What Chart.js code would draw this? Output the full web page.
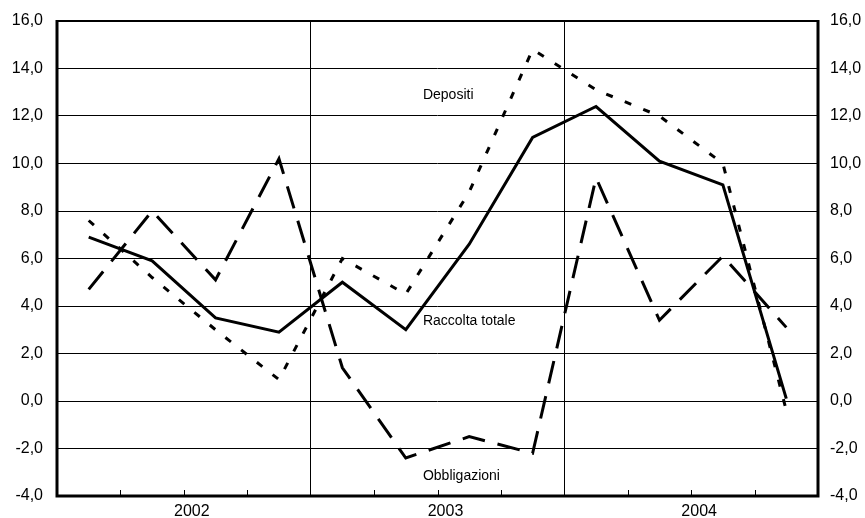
<!DOCTYPE html>
<html>
<head>
<meta charset="utf-8">
<script src="https://cdn.jsdelivr.net/npm/chart.js@4.4.1/dist/chart.umd.min.js"></script>
<style>
  body { margin: 0; background: #fff; }
  #wrap { width: 865px; height: 518px; }
</style>
</head>
<body>
<div id="wrap"><canvas id="chart"></canvas></div>
<script>
// Data: quarterly values 2002-2004
let years = ["2002", "2003", "2004"];
let quarters = ["I", "II", "III", "IV", "I", "II", "III", "IV", "I", "II", "III", "IV"];

let raccolta     = [6.9, 5.9, 3.5, 2.9, 5.0, 3.0, 6.6, 11.1, 12.4, 10.1, 9.1, 0.1];
let depositi     = [7.6, 5.2, 3.0, 0.9, 6.0, 4.5, 8.8, 14.8, 13.1, 12.0, 10.0, -0.4];
let obbligazioni = [4.7, 8.0, 5.1, 10.2, 1.4, -2.4, -1.5, -2.2, 9.4, 3.4, 6.1, 3.1];

let yTicks = [-4, -2, 0, 2, 4, 6, 8, 10, 12, 14, 16];

// series labels written inside the chart (value coordinates)
let seriesLabels = [
    { text: "Depositi", x: 5.77, y: 12.87 },
    { text: "Raccolta totale", x: 5.77, y: 3.35 },
    { text: "Obbligazioni", x: 5.77, y: -3.16 }
];

const FONT = "'Liberation Sans', Arial, sans-serif";
Chart.defaults.font.family = FONT;
Chart.defaults.color = "#000";

function toPoints(arr) {
    return arr.map((v, i) => ({ x: i + 0.5, y: v }));
}

function fmt(v) {
    return v.toFixed(1).replace(".", ",");
}

// y axes: fixed width, no extra padding above/below
function fitY(width) {
    return s => {
        s.width = width;
        s.paddingTop = 0;
        s.paddingBottom = 0;
    };
}

// frame, inner tick marks and text labels
const extras = {
    id: "extras",
    afterDatasetsDraw(chart) {
        const ctx = chart.ctx;
        const a = chart.chartArea;
        const xs = chart.scales.x;
        const ys = chart.scales.y;
        ctx.save();
        ctx.strokeStyle = "#000";

        // small ticks pointing up from the bottom
        ctx.lineWidth = 1;
        for (let i = 1; i < quarters.length; i++) {
            if (i % 4 === 0) continue;
            let px = Math.round(xs.getPixelForValue(i)) + 0.5;
            ctx.beginPath();
            ctx.moveTo(px, a.bottom);
            ctx.lineTo(px, a.bottom - 6);
            ctx.stroke();
        }

        // frame
        ctx.lineWidth = 2;
        ctx.beginPath();
        ctx.moveTo(a.left, a.top);
        ctx.lineTo(a.right, a.top);
        ctx.stroke();
        ctx.lineWidth = 3;
        ctx.beginPath();
        ctx.moveTo(a.left, a.top - 1);
        ctx.lineTo(a.left, a.bottom);
        ctx.lineTo(a.right, a.bottom);
        ctx.lineTo(a.right, a.top - 1);
        ctx.stroke();

        // series names
        ctx.fillStyle = "#000";
        ctx.font = "14px " + FONT;
        ctx.textAlign = "left";
        ctx.textBaseline = "middle";
        seriesLabels.forEach(l => {
            ctx.fillText(l.text, xs.getPixelForValue(l.x), ys.getPixelForValue(l.y));
        });
        ctx.restore();
    }
};

new Chart(document.getElementById("chart").getContext("2d"), {
    type: "line",
    data: {
        datasets: [
            {
                label: "Depositi",
                data: toPoints(depositi),
                borderColor: "#000",
                borderWidth: 3,
                borderDash: [7, 13],
                pointRadius: 0,
                tension: 0
            },
            {
                label: "Obbligazioni",
                data: toPoints(obbligazioni),
                borderColor: "#000",
                borderWidth: 3,
                borderDash: [23, 13],
                pointRadius: 0,
                tension: 0
            },
            {
                label: "Raccolta totale",
                data: toPoints(raccolta),
                borderColor: "#000",
                borderWidth: 3,
                pointRadius: 0,
                tension: 0
            }
        ]
    },
    options: {
        responsive: true,
        maintainAspectRatio: false,
        animation: false,
        layout: { padding: { top: 21, left: 0, right: 0, bottom: 0 } },
        plugins: {
            legend: { display: false },
            tooltip: { enabled: false }
        },
        scales: {
            x: {
                type: "linear",
                min: 0,
                max: quarters.length,
                border: { display: false },
                grid: {
                    drawTicks: false,
                    lineWidth: 1,
                    color: c => (c.tick && c.tick.value % 4 === 0 && c.tick.value > 0 && c.tick.value < 12) ? "#000" : "rgba(0,0,0,0)"
                },
                ticks: {
                    stepSize: 1,
                    autoSkip: false,
                    maxRotation: 0,
                    padding: 6,
                    labelOffset: 8,
                    font: { size: 16 },
                    callback: v => (v % 4 === 2 ? years[(v - 2) / 4] : "")
                },
                afterFit: s => {
                    s.height = 22;
                    s.paddingLeft = 0;
                    s.paddingRight = 0;
                }
            },
            y: {
                position: "left",
                min: -4,
                max: 16,
                border: { display: false },
                grid: { drawTicks: false, color: "#000", lineWidth: 1 },
                ticks: {
                    stepSize: 2,
                    padding: 14,
                    font: { size: 16 },
                    callback: v => fmt(v)
                },
                afterBuildTicks: s => { s.ticks = yTicks.map(v => ({ value: v })); },
                afterFit: fitY(57)
            },
            y2: {
                position: "right",
                min: -4,
                max: 16,
                border: { display: false },
                grid: { display: false, drawTicks: false },
                ticks: {
                    stepSize: 2,
                    padding: 12,
                    font: { size: 16 },
                    callback: v => fmt(v)
                },
                afterBuildTicks: s => { s.ticks = yTicks.map(v => ({ value: v })); },
                afterFit: fitY(47)
            }
        }
    },
    plugins: [extras]
});
</script>
</body>
</html>
